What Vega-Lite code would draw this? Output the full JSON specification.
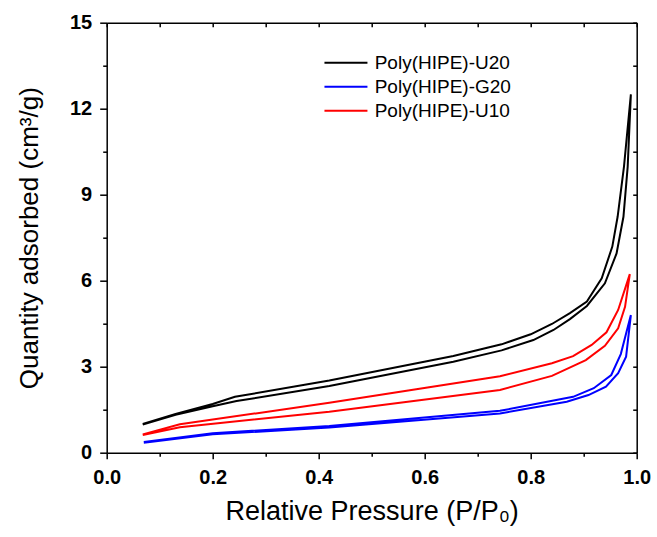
{
  "$schema": "https://vega.github.io/schema/vega-lite/v6.json",
  "width": 530,
  "height": 430,
  "autosize": "none",
  "padding": {"left": 106.7, "top": 22.7, "right": 20.3, "bottom": 84.3},
  "background": "white",
  "config": {
    "view": {"stroke": null},
    "font": "Liberation Sans",
    "axis": {
      "domainColor": "black",
      "domainWidth": 1.5,
      "tickColor": "black",
      "tickWidth": 1.5,
      "grid": false,
      "labelFont": "Liberation Sans",
      "labelFontWeight": "bold",
      "labelFontSize": 20,
      "labelColor": "black",
      "titleFont": "Liberation Sans",
      "titleFontWeight": "normal",
      "titleFontSize": 26,
      "titleColor": "black"
    }
  },
  "data": {
    "values": [
      {"series": "Poly(HIPE)-U20", "i": 1, "p": 0.068, "q": 0.98},
      {"series": "Poly(HIPE)-U20", "i": 2, "p": 0.13, "q": 1.32},
      {"series": "Poly(HIPE)-U20", "i": 3, "p": 0.2, "q": 1.62},
      {"series": "Poly(HIPE)-U20", "i": 4, "p": 0.245, "q": 1.8},
      {"series": "Poly(HIPE)-U20", "i": 5, "p": 0.42, "q": 2.33},
      {"series": "Poly(HIPE)-U20", "i": 6, "p": 0.654, "q": 3.17},
      {"series": "Poly(HIPE)-U20", "i": 7, "p": 0.745, "q": 3.57},
      {"series": "Poly(HIPE)-U20", "i": 8, "p": 0.805, "q": 3.93},
      {"series": "Poly(HIPE)-U20", "i": 9, "p": 0.843, "q": 4.28},
      {"series": "Poly(HIPE)-U20", "i": 10, "p": 0.874, "q": 4.66},
      {"series": "Poly(HIPE)-U20", "i": 11, "p": 0.906, "q": 5.12},
      {"series": "Poly(HIPE)-U20", "i": 12, "p": 0.94, "q": 5.91},
      {"series": "Poly(HIPE)-U20", "i": 13, "p": 0.962, "q": 6.95},
      {"series": "Poly(HIPE)-U20", "i": 14, "p": 0.975, "q": 8.23},
      {"series": "Poly(HIPE)-U20", "i": 15, "p": 0.983, "q": 9.98},
      {"series": "Poly(HIPE)-U20", "i": 16, "p": 0.989, "q": 12.5},
      {"series": "Poly(HIPE)-U20", "i": 17, "p": 0.976, "q": 9.98},
      {"series": "Poly(HIPE)-U20", "i": 18, "p": 0.964, "q": 8.23},
      {"series": "Poly(HIPE)-U20", "i": 19, "p": 0.954, "q": 7.19},
      {"series": "Poly(HIPE)-U20", "i": 20, "p": 0.934, "q": 6.08},
      {"series": "Poly(HIPE)-U20", "i": 21, "p": 0.906, "q": 5.27},
      {"series": "Poly(HIPE)-U20", "i": 22, "p": 0.874, "q": 4.87},
      {"series": "Poly(HIPE)-U20", "i": 23, "p": 0.84, "q": 4.49},
      {"series": "Poly(HIPE)-U20", "i": 24, "p": 0.8, "q": 4.13},
      {"series": "Poly(HIPE)-U20", "i": 25, "p": 0.745, "q": 3.78},
      {"series": "Poly(HIPE)-U20", "i": 26, "p": 0.654, "q": 3.37},
      {"series": "Poly(HIPE)-U20", "i": 27, "p": 0.42, "q": 2.52},
      {"series": "Poly(HIPE)-U20", "i": 28, "p": 0.242, "q": 1.95},
      {"series": "Poly(HIPE)-U20", "i": 29, "p": 0.2, "q": 1.7},
      {"series": "Poly(HIPE)-U20", "i": 30, "p": 0.13, "q": 1.35},
      {"series": "Poly(HIPE)-U20", "i": 31, "p": 0.068, "q": 1.0},

      {"series": "Poly(HIPE)-G20", "i": 1, "p": 0.07, "q": 0.35},
      {"series": "Poly(HIPE)-G20", "i": 2, "p": 0.2, "q": 0.64},
      {"series": "Poly(HIPE)-G20", "i": 3, "p": 0.42, "q": 0.88},
      {"series": "Poly(HIPE)-G20", "i": 4, "p": 0.742, "q": 1.37},
      {"series": "Poly(HIPE)-G20", "i": 5, "p": 0.868, "q": 1.78},
      {"series": "Poly(HIPE)-G20", "i": 6, "p": 0.909, "q": 2.01},
      {"series": "Poly(HIPE)-G20", "i": 7, "p": 0.942, "q": 2.3},
      {"series": "Poly(HIPE)-G20", "i": 8, "p": 0.965, "q": 2.77},
      {"series": "Poly(HIPE)-G20", "i": 9, "p": 0.98, "q": 3.35},
      {"series": "Poly(HIPE)-G20", "i": 10, "p": 0.989, "q": 4.8},
      {"series": "Poly(HIPE)-G20", "i": 11, "p": 0.98, "q": 4.16},
      {"series": "Poly(HIPE)-G20", "i": 12, "p": 0.97, "q": 3.44},
      {"series": "Poly(HIPE)-G20", "i": 13, "p": 0.952, "q": 2.71},
      {"series": "Poly(HIPE)-G20", "i": 14, "p": 0.919, "q": 2.25},
      {"series": "Poly(HIPE)-G20", "i": 15, "p": 0.88, "q": 1.95},
      {"series": "Poly(HIPE)-G20", "i": 16, "p": 0.742, "q": 1.46},
      {"series": "Poly(HIPE)-G20", "i": 17, "p": 0.42, "q": 0.93},
      {"series": "Poly(HIPE)-G20", "i": 18, "p": 0.2, "q": 0.68},
      {"series": "Poly(HIPE)-G20", "i": 19, "p": 0.07, "q": 0.37},

      {"series": "Poly(HIPE)-U10", "i": 1, "p": 0.068, "q": 0.62},
      {"series": "Poly(HIPE)-U10", "i": 2, "p": 0.138, "q": 0.89},
      {"series": "Poly(HIPE)-U10", "i": 3, "p": 0.42, "q": 1.43},
      {"series": "Poly(HIPE)-U10", "i": 4, "p": 0.742, "q": 2.19},
      {"series": "Poly(HIPE)-U10", "i": 5, "p": 0.84, "q": 2.68},
      {"series": "Poly(HIPE)-U10", "i": 6, "p": 0.904, "q": 3.23},
      {"series": "Poly(HIPE)-U10", "i": 7, "p": 0.94, "q": 3.73},
      {"series": "Poly(HIPE)-U10", "i": 8, "p": 0.965, "q": 4.34},
      {"series": "Poly(HIPE)-U10", "i": 9, "p": 0.978, "q": 5.09},
      {"series": "Poly(HIPE)-U10", "i": 10, "p": 0.987, "q": 6.23},
      {"series": "Poly(HIPE)-U10", "i": 11, "p": 0.965, "q": 4.98},
      {"series": "Poly(HIPE)-U10", "i": 12, "p": 0.943, "q": 4.2},
      {"series": "Poly(HIPE)-U10", "i": 13, "p": 0.915, "q": 3.76},
      {"series": "Poly(HIPE)-U10", "i": 14, "p": 0.88, "q": 3.37},
      {"series": "Poly(HIPE)-U10", "i": 15, "p": 0.84, "q": 3.12},
      {"series": "Poly(HIPE)-U10", "i": 16, "p": 0.742, "q": 2.67},
      {"series": "Poly(HIPE)-U10", "i": 17, "p": 0.42, "q": 1.74},
      {"series": "Poly(HIPE)-U10", "i": 18, "p": 0.138, "q": 0.99},
      {"series": "Poly(HIPE)-U10", "i": 19, "p": 0.068, "q": 0.64}
    ]
  },
  "resolve": {"axis": {"x": "independent", "y": "independent"}},
  "layer": [
    {
      "mark": {"type": "line", "strokeWidth": 2},
      "encoding": {
        "x": {
          "field": "p", "type": "quantitative",
          "scale": {"domain": [0, 1], "nice": false, "zero": false},
          "axis": {
            "orient": "bottom",
            "title": "Relative Pressure (P/P₀)",
            "titleFontSize": 27,
            "values": [0, 0.1, 0.2, 0.3, 0.4, 0.5, 0.6, 0.7, 0.8, 0.9, 1.0],
            "format": ".1f",
            "labelExpr": "round(datum.value*10) % 2 == 0 ? datum.label : ''",
            "tickSize": {"condition": {"test": "round(datum.value*10) % 2 == 0", "value": 6}, "value": 3.5},
            "labelPadding": 9,
            "labelFlush": false,
            "titlePadding": 11
          }
        },
        "y": {
          "field": "q", "type": "quantitative",
          "scale": {"domain": [0, 15], "nice": false, "zero": false},
          "axis": {
            "orient": "left",
            "title": "Quantity adsorbed (cm³/g)",
            "values": [0, 1.5, 3, 4.5, 6, 7.5, 9, 10.5, 12, 13.5, 15],
            "labelExpr": "datum.value % 3 == 0 ? format(datum.value, 'd') : ''",
            "tickSize": {"condition": {"test": "datum.value % 3 == 0", "value": 7}, "value": 4},
            "labelPadding": 8,
            "labelFlush": false,
            "titlePadding": 27
          }
        },
        "color": {
          "field": "series", "type": "nominal",
          "scale": {"domain": ["Poly(HIPE)-U20", "Poly(HIPE)-G20", "Poly(HIPE)-U10"], "range": ["#000000", "#0000ff", "#ff0000"]},
          "legend": {
            "orient": "none",
            "legendX": 238,
            "legendY": 28,
            "title": null,
            "symbolType": "M-3,0H1",
            "symbolSize": 462,
            "symbolStrokeWidth": 2,
            "labelFont": "Liberation Sans",
            "labelFontSize": 19,
            "labelColor": "black",
            "labelOffset": 6,
            "rowPadding": 2
          }
        },
        "order": {"field": "i", "type": "quantitative"}
      }
    },
    {
      "mark": {"type": "point", "opacity": 0},
      "encoding": {
        "x": {
          "field": "p", "type": "quantitative",
          "axis": {
            "orient": "top", "title": null, "labels": false,
            "values": [0, 0.1, 0.2, 0.3, 0.4, 0.5, 0.6, 0.7, 0.8, 0.9, 1.0],
            "tickSize": -4
          }
        },
        "y": {
          "field": "q", "type": "quantitative",
          "axis": {
            "orient": "right", "title": null, "labels": false,
            "values": [0, 1.5, 3, 4.5, 6, 7.5, 9, 10.5, 12, 13.5, 15],
            "tickSize": -4
          }
        }
      }
    }
  ]
}
